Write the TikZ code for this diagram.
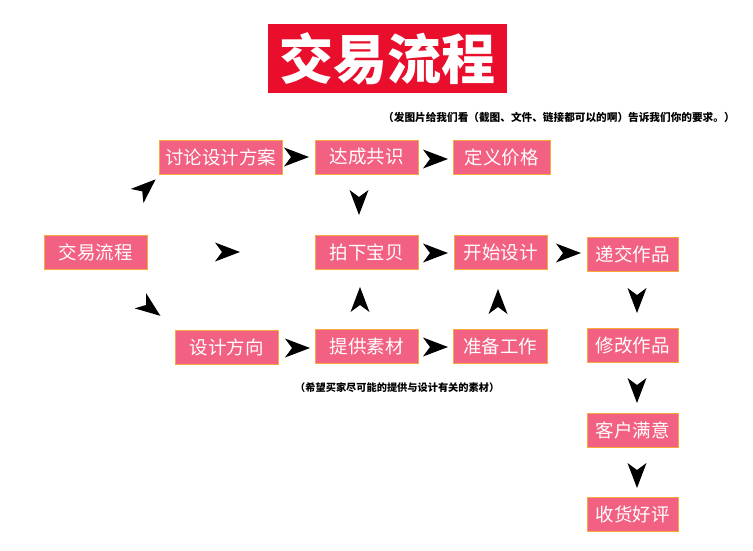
\documentclass[tikz,border=0pt]{standalone}
\usepackage{fontspec}
\setmainfont{Noto Sans CJK SC}
\begin{document}
\begin{tikzpicture}[x=1pt,y=-1pt]
\definecolor{boxpink}{RGB}{242,96,130}
\definecolor{boxedge}{RGB}{245,170,60}
\definecolor{titlered}{RGB}{232,14,44}
\tikzset{
  stepbox/.style={fill=boxpink, draw=boxedge, line width=0.8pt, text=white,
    minimum height=34, inner sep=0pt, font=\fontsize{18.5}{20}\selectfont},
  ahead/.pic={\fill[black] (13,0) -- (-12,-9.5) -- (-5,0) -- (-12,9.5) -- cycle;},
  note/.style={font=\bfseries\fontsize{10.65}{12}\selectfont, inner sep=0pt}
}
\useasboundingbox (0,0) rectangle (753,550);
\fill[white] (0,0) rectangle (753,550);
% title
\node[fill=titlered, text=white, minimum width=239, minimum height=69, inner sep=0pt,
  font=\bfseries\fontsize{54}{58}\selectfont] (title) at (387.5,58.5) {交易流程};
\node[note, anchor=west] (note1) at (383,117) {（发图片给我们看（截图、文件、链接都可以的啊）告诉我们你的要求。）};
\node[note, anchor=west, font=\bfseries\fontsize{10.2}{12}\selectfont] (note2) at (295,388) {（希望买家尽可能的提供与设计有关的素材）};
% boxes
\node[stepbox, minimum width=103] (start) at (95.5,252) {交易流程};
\node[stepbox, minimum width=123] (discuss) at (220.5,157) {讨论设计方案};
\node[stepbox, minimum width=103] (agree) at (366.5,157) {达成共识};
\node[stepbox, minimum width=97] (price) at (501.5,157) {定义价格};
\node[stepbox, minimum width=103] (buy) at (366.5,252) {拍下宝贝};
\node[stepbox, minimum width=93] (design) at (500.5,252) {开始设计};
\node[stepbox, minimum width=91] (submit) at (632.5,254) {递交作品};
\node[stepbox, minimum width=103] (direction) at (226.5,347) {设计方向};
\node[stepbox, minimum width=103] (material) at (366.5,346) {提供素材};
\node[stepbox, minimum width=94] (prepare) at (500,346) {准备工作};
\node[stepbox, minimum width=91] (modify) at (632.5,345.5) {修改作品};
\node[stepbox, minimum width=91] (satisfied) at (632.5,430) {客户满意};
\node[stepbox, minimum width=91] (review) at (632.5,514) {收货好评};
% arrowheads
\coordinate (a1) at (296,157);
\coordinate (a2) at (435,159);
\coordinate (a3) at (359,202);
\coordinate (a4) at (435,253);
\coordinate (a5) at (568,253);
\coordinate (a6) at (360,300);
\coordinate (a7) at (498,302);
\coordinate (a8) at (297,348);
\coordinate (a9) at (435,347);
\coordinate (a10) at (227,252);
\coordinate (a11) at (146,188);
\coordinate (a12) at (150,308);
\coordinate (a13) at (637,300);
\coordinate (a14) at (637,390);
\coordinate (a15) at (637,475);
\pic at (a1) {ahead};
\pic at (a2) {ahead};
\pic[rotate=-90] at (a3) {ahead};
\pic at (a4) {ahead};
\pic at (a5) {ahead};
\pic[rotate=90] at (a6) {ahead};
\pic[rotate=90] at (a7) {ahead};
\pic at (a8) {ahead};
\pic at (a9) {ahead};
\pic at (a10) {ahead};
\pic[rotate=42] at (a11) {ahead};
\pic[rotate=-37] at (a12) {ahead};
\pic[rotate=-90] at (a13) {ahead};
\pic[rotate=-90] at (a14) {ahead};
\pic[rotate=-90] at (a15) {ahead};
\end{tikzpicture}
\end{document}
